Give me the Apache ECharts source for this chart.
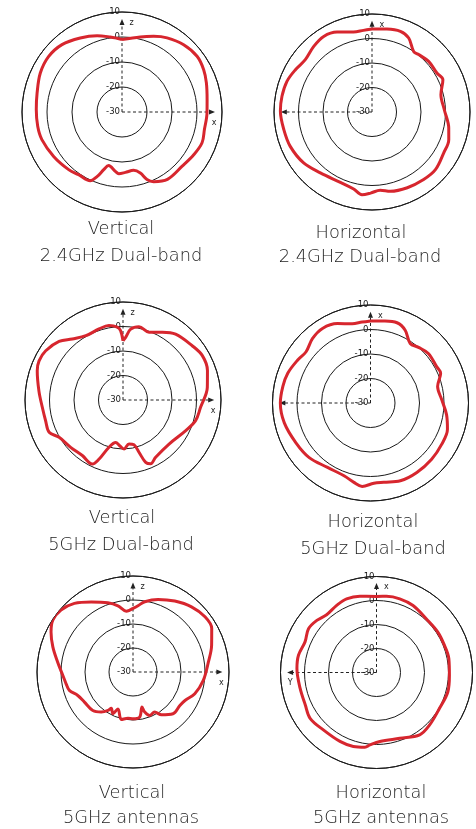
<!DOCTYPE html>
<html>
<head>
<meta charset="utf-8">
<script src="https://cdn.jsdelivr.net/npm/echarts@6/dist/echarts.min.js"></script>
<style>
html,body{margin:0;padding:0;background:#fff;}
#chart{width:476px;height:829px;}
</style>
</head>
<body>
<div id="chart"></div>
<script>
// ---- Data (gain in dBi vs angle in degrees, clockwise from the top axis) ----
const radialTicks = [-30, -20, -10, 0, 10];

const p1Angles = [0, 13.7, 22.7, 31.3, 42.5, 53.4, 62.6, 71, 81.7, 90.7, 102, 111, 120.8, 132, 146, 155.6, 159.7, 163.3, 168.7, 176.8, 183, 186.4, 194, 197.6, 201, 204.8, 214.7, 222.8, 237, 251, 260.4, 271.6, 282.6, 295.5, 307, 318.3, 330.6, 341.9, 351, 356];
const p1Gain = [-1.0, 0.9, 2.8, 4.7, 6.5, 7.4, 6.8, 5.7, 4.4, 4.0, 3.7, 4.3, 3.4, 2.4, 2.5, 0.6, -1.2, -4.5, -6.2, -5.8, -5.3, -6.1, -7.9, -5.8, -2.4, 0.3, 0.5, 1.4, 2.6, 3.9, 4.2, 4.3, 4.8, 6.2, 6.8, 6.1, 4.0, 2.1, 0.4, -0.4];

const p2Angles = [0, 10.2, 19.4, 26.4, 34.5, 39.1, 48.2, 59, 65.5, 75.9, 88, 101.8, 109.8, 119.8, 132.3, 142.6, 155, 167, 174, 181, 186.9, 193.4, 204.2, 220.3, 233.3, 247.2, 258.7, 270.6, 279.9, 289.8, 298.9, 308.1, 318.4, 327.4, 336.4, 347, 354];
const p2Gain = [3.9, 4.4, 4.9, 3.7, 0.0, 0.2, 1.0, 0.9, 1.8, -1.0, -0.5, 2.0, 3.3, 3.7, 5.0, 4.7, 4.1, 3.2, 2.1, 3.1, 4.0, 2.3, 1.5, 2.6, 4.8, 6.2, 6.7, 7.4, 7.3, 6.9, 5.7, 4.6, 5.8, 6.6, 5.6, 3.5, 3.5];

const p3Angles = [0, 2.4, 6.2, 12.3, 21, 30.2, 38.6, 51.9, 60.8, 70.8, 81.5, 95.4, 105.9, 116, 133.7, 150.3, 156.6, 160, 163, 166.2, 172.2, 178.8, 184.2, 189.8, 196.5, 202, 205.6, 216.2, 227.9, 239.7, 246.4, 255, 265.2, 276, 288.9, 295, 302.5, 312.5, 320.3, 330, 341.3, 349.3, 355.5, 358];
const p3Gain = [-5.8, -4.4, -0.9, 0.6, -0.4, 2.0, 4.4, 5.9, 7.1, 6.5, 4.8, 1.8, 0.8, -1.5, -4.0, -3.1, -1.6, -2.9, -7.7, -11.2, -11.9, -10.0, -11.3, -12.4, -9.9, -4.0, -1.0, -1.9, -1.2, 0.2, 2.9, 2.7, 3.1, 4.5, 7.0, 7.8, 7.4, 5.4, 2.4, 0.3, 0.6, 0.9, -0.2, -1.7];

const p4Angles = [0, 9.2, 18.3, 25.5, 33.7, 40.8, 49.4, 61.2, 67, 76.2, 87.3, 98.7, 108.9, 120.2, 132.6, 146.3, 159, 170.5, 177.6, 185.7, 191.8, 200, 213.7, 228.3, 241.9, 257, 270, 280.7, 289.8, 300.6, 308.5, 318.1, 327.2, 337.4, 347, 354];
const p4Gain = [3.5, 3.9, 4.5, 2.9, -0.8, 0.0, 1.1, 0.8, 1.1, -1.8, -0.9, 1.4, 3.2, 3.6, 3.9, 4.1, 4.0, 2.8, 2.8, 4.2, 3.1, 1.6, 1.6, 3.5, 4.5, 6.1, 6.8, 6.4, 5.9, 4.5, 3.6, 5.4, 6.2, 5.1, 3.2, 3.2];

const p5Angles = [0, 4.3, 9.5, 19, 30.5, 41.9, 52.5, 61, 71.2, 82.4, 96.8, 109.4, 118.7, 125.5, 136.2, 146.4, 151.6, 159, 163.7, 165.6, 171.6, 180, 186.2, 193.8, 202.2, 205.6, 211, 213, 218.4, 226.2, 238.2, 247, 253.9, 260, 267.3, 277.6, 287.4, 296, 302.9, 310.7, 319.5, 329.2, 340, 347.2, 353.7];
const p5Gain = [-3.5, -2.3, -0.3, 2.0, 4.3, 6.5, 7.8, 7.5, 4.6, 1.7, -0.5, -2.7, -5.3, -6.0, -5.9, -8.6, -11.0, -10.6, -12.6, -14.9, -11.0, -10.5, -10.6, -9.6, -13.4, -10.7, -12.4, -10.9, -8.7, -6.8, -6.2, -5.0, -2.4, -1.7, -0.7, 1.7, 5.0, 8.0, 9.8, 9.6, 7.6, 4.0, 0.7, -1.7, -4.5];

const p6Angles = [0, 7.5, 17.5, 28.6, 42.8, 56.6, 68.2, 79.1, 92.1, 105.1, 119.6, 134.6, 145.3, 160.5, 177.2, 185.2, 188.8, 197.4, 207.9, 222.8, 235.4, 245.5, 258.2, 272.9, 282.5, 293.2, 302.8, 311.1, 319.2, 329.3, 337.9, 347.7];
const p6Gain = [1.7, 2.0, 2.2, 1.8, 0.5, 0.6, 0.5, 0.7, 0.4, 0.8, 0.2, 1.1, 1.6, -0.9, -1.2, 0.3, 1.5, 2.3, 2.5, 2.6, 3.6, 2.6, 2.5, 3.2, 3.3, 2.4, 3.7, 3.0, 1.8, 2.5, 3.1, 2.5];

const titleLine1 = ['Vertical', 'Horizontal', 'Vertical', 'Horizontal', 'Vertical', 'Horizontal'];
const titleLine2 = ['2.4GHz Dual-band', '2.4GHz Dual-band', '5GHz Dual-band', '5GHz Dual-band', '5GHz antennas', '5GHz antennas'];
const upAxisName = ['z', 'x', 'z', 'x', 'z', 'x'];
const sideAxisName = ['x', '', 'x', '', 'x', 'Y'];
const sideAxisAngle = [90, 270, 90, 270, 90, 270];
const axisEnd = 6;

// ---- Layout / style (not data) ----
const panels = [
  {cx: 122, cy: 112, r: 100, t1: [121, 229.5], t2: [121, 256]},
  {cx: 372, cy: 112, r: 98,  t1: [361, 233],   t2: [360, 257]},
  {cx: 123, cy: 400, r: 98,  t1: [122, 518],   t2: [121, 545]},
  {cx: 370.5, cy: 403, r: 98, t1: [373, 522],  t2: [373, 549]},
  {cx: 133, cy: 672, r: 96,  t1: [132, 793],   t2: [131, 818]},
  {cx: 376.5, cy: 672.5, r: 96, t1: [381, 793], t2: [381, 818]}
];
const allAngles = [p1Angles, p2Angles, p3Angles, p4Angles, p5Angles, p6Angles];
const allGain = [p1Gain, p2Gain, p3Gain, p4Gain, p5Gain, p6Gain];

const RED = '#d7262e';
const INK = '#1a1a1a';
const TXT = '#1c1c1c';
const FONT = '"DejaVu Sans", Lato, sans-serif';

const polar = [], angleAxis = [], radiusAxis = [], series = [], graphic = [];

panels.forEach((p, i) => {
  polar.push({center: [p.cx, p.cy], radius: [0, p.r]});
  angleAxis.push({
    polarIndex: i, type: 'value', min: 0, max: 360, startAngle: 90, clockwise: true,
    axisLine: {show: true, lineStyle: {color: INK, width: 1}},
    axisTick: {show: false}, axisLabel: {show: false}, splitLine: {show: false}
  });
  radiusAxis.push({
    polarIndex: i, type: 'value', min: radialTicks[0], max: radialTicks[radialTicks.length - 1], interval: 10,
    axisLine: {show: false}, axisTick: {show: false},
    axisLabel: {show: true, color: INK, fontSize: 9.5, fontFamily: '"DejaVu Sans Condensed", "Liberation Sans Narrow", sans-serif', margin: 2, showMinLabel: true, showMaxLabel: true},
    splitLine: {show: true, lineStyle: {color: INK, width: 1}},
    z: 1
  });

  // gain curve, closed loop
  const a = allAngles[i], g = allGain[i];
  const data = a.map((ang, k) => [g[k], ang]);
  data.push([g[0], 360]);
  series.push({
    type: 'line', coordinateSystem: 'polar', polarIndex: i, data: data,
    showSymbol: false, smooth: 0.35, silent: true,
    lineStyle: {color: RED, width: 3}, z: 5
  });

  // dashed axis arrows
  const mkAxis = (ang, name, rot, labelPos, labelOffset) => ({
    type: 'line', coordinateSystem: 'polar', polarIndex: i, silent: true,
    symbol: 'none', showSymbol: true, showAllSymbol: true,
    lineStyle: {color: '#222', width: 1, type: [3, 2.5]},
    data: [
      {value: [radialTicks[0], ang], symbol: 'none'},
      {value: [axisEnd, ang], symbol: 'triangle', symbolSize: [5, 6], symbolRotate: rot,
       itemStyle: {color: '#222'},
       label: {show: name !== '', formatter: name, position: labelPos, offset: labelOffset,
               color: '#222', fontSize: 8, fontFamily: '"DejaVu Sans", sans-serif'}}
    ],
    z: 3
  });
  series.push(mkAxis(0, upAxisName[i], 0, 'right', [0, 1]));
  const sa = sideAxisAngle[i];
  series.push(mkAxis(sa, sideAxisName[i], sa === 90 ? -90 : 90, 'bottom', [sa === 90 ? 2 : 0, -1]));

  // captions
  [[titleLine1[i], p.t1], [titleLine2[i], p.t2]].forEach(([txt, pos]) => {
    graphic.push({
      type: 'text', x: pos[0], y: pos[1], silent: true,
      style: {text: txt, fill: TXT, font: '200 17.8px ' + FONT, textAlign: 'center', textVerticalAlign: 'middle'}
    });
  });
});

const chart = echarts.init(document.getElementById('chart'), null, {renderer: 'canvas'});
chart.setOption({
  animation: false,
  backgroundColor: '#fff',
  polar, angleAxis, radiusAxis, series, graphic
});
</script>
</body>
</html>
